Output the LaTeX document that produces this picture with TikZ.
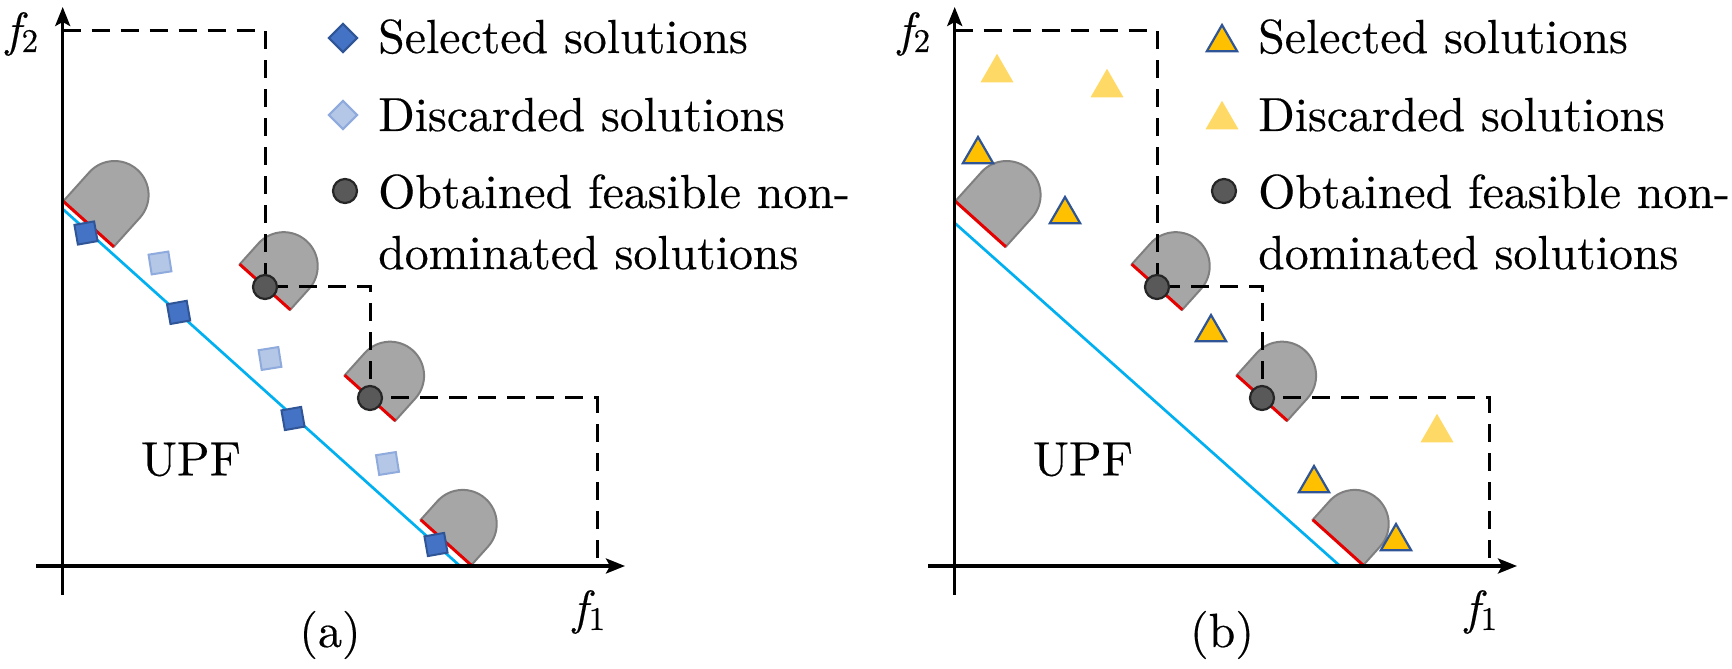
\documentclass[tikz,border=0pt]{standalone}
\usepackage{fontspec}
\newfontfamily\serifam{lmroman10-regular.otf}[FakeBold=0.35]
\newfontfamily\serifit{lmroman10-italic.otf}[FakeBold=0.35]
\usetikzlibrary{arrows.meta}
\usetikzlibrary{shapes.geometric}
\definecolor{capgray}{HTML}{A6A6A6}
\definecolor{capedge}{HTML}{7F7F7F}
\definecolor{basered}{HTML}{E60000}
\definecolor{upfblue}{HTML}{00B0F0}
\definecolor{selblue}{HTML}{4472C4}
\definecolor{seledge}{HTML}{2F5597}
\definecolor{disblue}{HTML}{B4C7E7}
\definecolor{disedge}{HTML}{8FAADC}
\definecolor{selgold}{HTML}{FFC000}
\definecolor{disgold}{HTML}{FFD966}
\definecolor{obtfill}{HTML}{595959}
\definecolor{obtedge}{HTML}{262626}
\newcommand{\legfont}{\serifam\fontsize{47.8pt}{56pt}\selectfont}
\newcommand{\labfont}{\serifam\fontsize{48pt}{56pt}\selectfont}
\newcommand{\fsub}[1]{{\serifit f}\kern1pt\raisebox{-6pt}{\fontsize{33pt}{36pt}\selectfont #1}}
\tikzset{
     axis/.style={
           line width=3.3pt,
           -{Stealth[length=19pt,width=15pt,inset=4pt]},
           },
     pareto/.style={
           line width=3pt,
           dash pattern=on 18pt off 11pt,
           },
     upf/.style={
           upfblue, line width=2.7pt,
           },
     selsq/.style={
           rectangle, fill=selblue, draw=seledge, line width=2pt,
           minimum size=20pt, inner sep=0pt, rotate=10,
           },
     dissq/.style={
           rectangle, fill=disblue, draw=disedge, line width=2pt,
           minimum size=20pt, inner sep=0pt, rotate=9,
           },
     seltri/.style={
           regular polygon, regular polygon sides=3,
           fill=selgold, draw=seledge, line width=2.2pt,
           minimum size=35pt, inner sep=0pt, yshift=-4.5pt,
           },
     distri/.style={
           regular polygon, regular polygon sides=3,
           fill=disgold, minimum size=38pt, inner sep=0pt, yshift=-4.8pt,
           },
     obtained/.style={
           circle, fill=obtfill, draw=obtedge, line width=2.2pt,
           minimum size=24pt, inner sep=0pt,
           },
     legtext/.style={
           anchor=base west, inner sep=0pt, font=\legfont,
           },
     labtext/.style={
           inner sep=0pt, font=\labfont,
           },
     pics/dcap/.style={
           code={
           \filldraw[fill=capgray, draw=capedge, line width=2pt]
                (-34,0) -- (-34,#1) arc[start angle=180, end angle=0, radius=34] -- (34,0) -- cycle;
           \draw[basered, line width=3pt] (-34,0) -- (34,0);
           }},
}
\begin{document}
\begin{tikzpicture}[x=1pt,y=1pt]
	\useasboundingbox (0,0) rectangle (1732,669);

	% (a)
	\coordinate (oa) at (62.7,103);
	\coordinate (ya) at (62.7,662);
	\coordinate (ya0) at (62.7,74);
	\coordinate (xa) at (625,103);
	\coordinate (xa0) at (36,103);
	\coordinate (ta) at (62.7,638.3);
	\coordinate (pa1) at (265,382);
	\coordinate (pa2) at (370,271);
	\coordinate (ra) at (597,103);
	\coordinate (ua0) at (62.7,460);
	\coordinate (ua1) at (460,103);

	\draw[upf] (ua0) -- (ua1);
	\pic[rotate=-42] at (88.5,445) {dcap=39};
	\pic[rotate=-42] at (pa1) {dcap=28};
	\pic[rotate=-42] at (pa2) {dcap=30};
	\pic[rotate=-42] at (446,126.5) {dcap=25};

	\node[selsq] (sa1) at (86,436) {};
	\node[selsq] (sa2) at (178.6,356.6) {};
	\node[selsq] (sa3) at (293,250.5) {};
	\node[selsq] (sa4) at (436,124.5) {};
	\node[dissq] (da1) at (160,406) {};
	\node[dissq] (da2) at (270,310.5) {};
	\node[dissq] (da3) at (387.5,205.5) {};

	\draw[pareto] (ta) -| (pa1) -| (pa2) -| (ra);
	\node[obtained] (oa1) at (pa1) {};
	\node[obtained] (oa2) at (pa2) {};

	\path[axis] (ya0) edge (ya);
	\path[axis] (xa0) edge (xa);

	\node[labtext, anchor=base] (f2a) at (22,623) {\fsub{2}};
	\node[labtext, anchor=base] (f1a) at (589,45) {\fsub{1}};
	\node[labtext] (upfa) at (191,209.5) {UPF};
	\node[labtext] (capa) at (330,34) {(a)};

	\node[selsq, rotate=35] (lsa) at (343,631) {};
	\node[dissq, rotate=36] (lda) at (343,554) {};
	\node[obtained] (loa) at (345,478) {};
	\node[legtext] (lsta) at (378,616) {Selected solutions};
	\node[legtext] (ldta) at (378,538) {Discarded solutions};
	\node[legtext] (lota) at (378,461) {Obtained feasible non-};
	\node[legtext] (lota2) at (378,400) {dominated solutions};

	% (b)
	\coordinate (ob) at (954.7,103);
	\coordinate (yb) at (954.7,662);
	\coordinate (yb0) at (954.7,74);
	\coordinate (xb) at (1517,103);
	\coordinate (xb0) at (928,103);
	\coordinate (tb) at (954.7,638.3);
	\coordinate (pb1) at (1157,382);
	\coordinate (pb2) at (1262,271);
	\coordinate (rb) at (1489,103);
	\coordinate (ub0) at (954.7,446);
	\coordinate (ub1) at (1340,103);

	\draw[upf] (ub0) -- (ub1);
	\pic[rotate=-42] at (980.5,445) {dcap=39};
	\pic[rotate=-42] at (pb1) {dcap=28};
	\pic[rotate=-42] at (pb2) {dcap=30};
	\pic[rotate=-42] at (1338,126.5) {dcap=25};

	\node[distri] (db1) at (997,601) {};
	\node[distri] (db2) at (1107,586) {};
	\node[distri] (db3) at (1437,241) {};
	\node[seltri] (sb1) at (978,519) {};
	\node[seltri] (sb2) at (1065,459) {};
	\node[seltri] (sb3) at (1211,341) {};
	\node[seltri] (sb4) at (1314,190) {};
	\node[seltri] (sb5) at (1396,132) {};

	\draw[pareto] (tb) -| (pb1) -| (pb2) -| (rb);
	\node[obtained] (ob1) at (pb1) {};
	\node[obtained] (ob2) at (pb2) {};

	\path[axis] (yb0) edge (yb);
	\path[axis] (xb0) edge (xb);

	\node[labtext, anchor=base] (f2b) at (914,623) {\fsub{2}};
	\node[labtext, anchor=base] (f1b) at (1481,45) {\fsub{1}};
	\node[labtext] (upfb) at (1083,209.5) {UPF};
	\node[labtext] (capb) at (1222,34) {(b)};

	\node[seltri] (lsb) at (1222,631) {};
	\node[distri] (ldb) at (1222,554) {};
	\node[obtained] (lob) at (1224,478) {};
	\node[legtext] (lstb) at (1258,616) {Selected solutions};
	\node[legtext] (ldtb) at (1258,538) {Discarded solutions};
	\node[legtext] (lotb) at (1258,461) {Obtained feasible non-};
	\node[legtext] (lotb2) at (1258,400) {dominated solutions};
\end{tikzpicture}
\end{document}
